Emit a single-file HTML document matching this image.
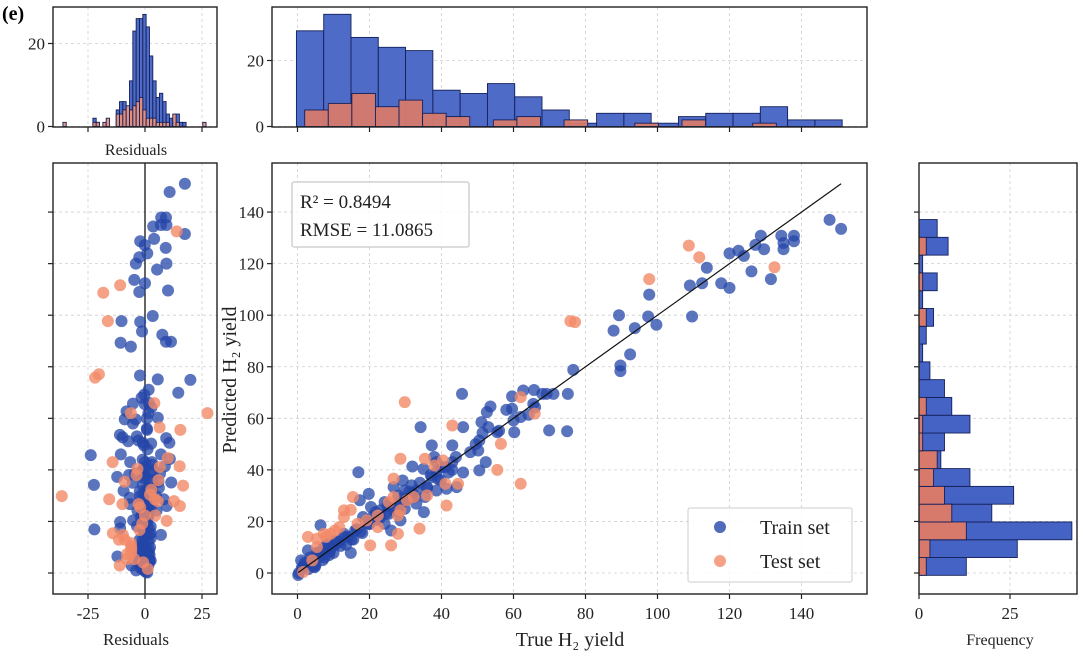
<!DOCTYPE html>
<html><head><meta charset="utf-8">
<style>
html,body{margin:0;padding:0;background:#fff;}
svg{display:block;font-family:"Liberation Serif",serif;}
</style></head>
<body>
<svg id="chart" width="1080" height="654" viewBox="0 0 1080 654" xmlns="http://www.w3.org/2000/svg">
<text x="2" y="20" font-size="20" font-weight="bold">(e)</text>
</svg>
<script>
// ---------- data ----------
const trainTrue = [147.8,151,128.7,127.2,129.6,134.4,137.9,135,137.9,135,120,122.5,124,113.7,126.1,117.7,120,131.5,112.4,109,109.6,97.7,97.4,99.7,89.3,87.8,93.7,92.4,89.7,89.7,76.6,75.1,74.9,69.9,71.1,65.7,68,62.7,59.6,59.6,58,60.2,66,64.2,62,45.7,53.6,52.6,51.1,53,55.5,51.4,49.5,50.2,52.3,50.5,46,34.2,37.3,43,46,43,44.2,38,38.6,35,31.9,39.8,41.4,38.6,35.1,36,32.5,29.2,26.7,27.9,29.8,24.2,22.9,25.4,26,28.6,19.8,17.3,16.9,20.4,18.2,16,14.8,12.9,10.4,6.4,10,7.3,5.4,4.8,2.9,1,0.4,1.6,3.5,6,8.5,11.6,14.1,19.8,22.3,24.2,21.7,33,35.4,29.8,31.7,37.3,29.2,38.6,41.1,48,43,50.5,56,60,65.5,69.2,0.2,1.2,2.2,3,4,5,6.5,7.5,8,9,10.5,12,13,15,16.5,18,20,21,23,25,27,28,30,31,33,34,36,37,39,40,42,44,3.5,5.5,7,9.5,11,13.5,17.5,19,22,24.5,26.5,28.5,30.5,32,2,4.5,8.8,15.5];
const trainPred = [137,133.5,130.8,127.3,125.6,130.8,130.8,128,128.7,125.6,124,125,123,118.4,117,112.4,110.6,114,112.4,111.5,99.5,108,99.5,96.3,100,94,95,84.8,80.5,78.3,78.8,69.5,55,55.3,69.5,71,69.5,70.8,68.5,63.7,63.3,54.6,64.3,61.4,60.5,69.5,64.6,62.4,58.5,56.6,54.6,54.3,50,47.5,43,39.8,56.6,56.6,49.5,49.5,39,40,33.3,45,43,40.4,41.3,36,32.7,32,23.6,33.3,29.5,28.8,33.3,26.9,24.9,27.5,24.3,23,16.5,20.4,30.7,28.2,39.1,25.6,21.7,16.5,7.8,15.2,12.7,18.5,7.8,10,7.5,2.3,8.8,4.9,0,2.3,3.6,6.2,11.4,12,14,19.1,21,19.1,23.6,26.9,29.5,32,34,37.2,35.9,39.1,41.1,46.9,43,51.4,55.2,59.2,65.6,69.5,-0.8,2,3.5,1.5,5,3,8,6,9.5,8.5,11,10.5,14,13,17,15.5,19,22,21.5,26,24,30,28,31.5,32,35,33,38,36.5,41,39,45,6,8,5,10,12,11,16,20,20.5,23,25.5,26,29,31,4,2.5,7,13];
const testTrue = [108.7,111.6,97.7,132.5,75.8,77.1,29.8,43,56.5,62,65.9,55.5,62,41.1,28.6,35.4,40.4,38,44.6,41.4,33.9,27.9,26,20.2,15.4,12.9,14.8,26.7,26.7,30.4,32.3,36,16.7,19.2,10.4,7.9,9.2,2.9,5.4,4.1,1.6,11.6,22.3,25.4,28.6,5.4,7.3,12.9,22.3,27.9];
const testPred = [127,122.5,114,118.6,97.7,97.3,66.3,57.2,50.1,68.2,61.8,40,34.6,34.6,44.3,44.3,43.7,41.7,34.6,26.2,17.2,15.2,10.7,10.7,29.5,24.3,24.5,36.6,29.5,28.2,29.5,30.1,19.1,20.4,16.5,14,15.2,14,10.1,4.9,0.4,17.8,22.3,27.5,24.3,13.3,15.2,21.7,17.8,22.3];

// top histogram of true values
const trueBinStart = -0.3, trueBinWidth = 7.58;
const trueHistTrain = [29,34,27,24,23,11,10,13,9,5,1,4,4,1,3,4,4,6,2,2];
const testBinStart = 2, testBinWidth = 6.55;
const trueHistTest = [5,7,10,6,8,4,3,0,2,3,0,2,0,0,1,0,2,0,0,1];

// right histogram of predicted values
const predBinStart = -0.9, predBinWidth = 6.9;
const predHistTrain = [13,27,42,20,26,14,6,7,14,9,7,3,1,2,4,1,5,1,8,5];
const predHistTest = [2,3,13,9,7,4,5,1,1,2,0,0,0,0,2,0,1,0,2,0];

// residual histogram
const resBinStart = -36, resBinWidth = 1.46;
const resHistTrain = [0,0,0,0,0,0,0,0,0,2,1,0,0,0,0,0,4,6,6,3,11,23,26,26,27,24,17,11,7,8,6,3,2,1,3,1,1,0,0,0,0,0,0];
const resHistTest  = [1,0,0,0,0,0,0,0,0,1,1,0,1,2,0,0,3,3,4,5,4,5,6,7,4,2,2,2,1,1,1,1,0,3,1,0,0,0,0,0,0,0,1];

const xTicksMain = [0,20,40,60,80,100,120,140];
const yTicksMain = [0,20,40,60,80,100,120,140];
const resTicks = [-25,0,25];
const freqTicks = [0,25];
const histTicksTop = [0,20];
const r2Text = "R\u00B2 = 0.8494";
const rmseText = "RMSE = 11.0865";

// ---------- scales ----------
const xm = v => 297.5 + v*3.6;
const ym = v => 573 - v*2.578;
const xr = v => 145 + v*2.28;
const yh1 = c => 126.5 - c*4.15;
const yh2 = c => 126.5 - c*3.3;
const xh3 = c => 919 + c*3.64;

const svg = document.getElementById('chart');
const NS = 'http://www.w3.org/2000/svg';
function mk(tag, attrs, parent){
  const e = document.createElementNS(NS, tag);
  for (const k in attrs) e.setAttribute(k, attrs[k]);
  (parent||svg).appendChild(e);
  return e;
}
function grp(name){
  const g = mk('g', {});
  
  
  return g;
}
const GRID = {stroke:'#cfcfcf','stroke-width':0.8,'stroke-dasharray':'3,3'};
const TRAIN_FILL='#4563c5', TEST_FILL='#d77a6c', EDGE='#14205a';
const DOT_TRAIN='#2446a8', DOT_TEST='#f28a68';

// panels
const P = {
  main:{x0:272,x1:867,y0:163,y1:594},
  res:{x0:53,x1:217,y0:163,y1:594},
  h1:{x0:53,x1:217,y0:7,y1:127},
  h2:{x0:272,x1:867,y0:7,y1:127},
  h3:{x0:919,x1:1077,y0:163,y1:594}
};

// ---------- grids ----------
const gGrid = grp('grid-lines');
xTicksMain.forEach(t=>{
  mk('line',Object.assign({x1:xm(t),x2:xm(t),y1:P.main.y0,y2:P.main.y1},GRID),gGrid);
  mk('line',Object.assign({x1:xm(t),x2:xm(t),y1:P.h2.y0,y2:P.h2.y1},GRID),gGrid);
});
yTicksMain.forEach(t=>{
  mk('line',Object.assign({x1:P.main.x0,x2:P.main.x1,y1:ym(t),y2:ym(t)},GRID),gGrid);
  mk('line',Object.assign({x1:P.res.x0,x2:P.res.x1,y1:ym(t),y2:ym(t)},GRID),gGrid);
  mk('line',Object.assign({x1:P.h3.x0,x2:P.h3.x1,y1:ym(t),y2:ym(t)},GRID),gGrid);
});
resTicks.forEach(t=>{
  mk('line',Object.assign({x1:xr(t),x2:xr(t),y1:P.res.y0,y2:P.res.y1},GRID),gGrid);
  mk('line',Object.assign({x1:xr(t),x2:xr(t),y1:P.h1.y0,y2:P.h1.y1},GRID),gGrid);
});
freqTicks.forEach(t=>{
  mk('line',Object.assign({x1:xh3(t),x2:xh3(t),y1:P.h3.y0,y2:P.h3.y1},GRID),gGrid);
});
histTicksTop.forEach(t=>{
  mk('line',Object.assign({x1:P.h1.x0,x2:P.h1.x1,y1:yh1(t),y2:yh1(t)},GRID),gGrid);
  mk('line',Object.assign({x1:P.h2.x0,x2:P.h2.x1,y1:yh2(t),y2:yh2(t)},GRID),gGrid);
});

// ---------- top-left residual histogram ----------
const gH1 = grp('residual-histogram');
function vbars(counts, start, width, xs, ys, fill, name, g){
  counts.forEach((c,i)=>{
    if(!c) return;
    const xa = xs(start+i*width), xb = xs(start+(i+1)*width);
    const r = mk('rect',{x:xa,y:ys(c),width:xb-xa,height:ys(0)-ys(c),fill:fill,stroke:EDGE,'stroke-width':0.9,'fill-opacity':0.95},g);
    
    
  });
}
vbars(resHistTrain,resBinStart,resBinWidth,xr,yh1,TRAIN_FILL,'residual-bar-train',gH1);
vbars(resHistTest,resBinStart,resBinWidth,xr,yh1,'#e8907a','residual-bar-test',gH1);

// ---------- top true-value histogram ----------
const gH2 = grp('true-yield-histogram');
vbars(trueHistTrain,trueBinStart,trueBinWidth,xm,yh2,TRAIN_FILL,'true-bar-train',gH2);
vbars(trueHistTest,testBinStart,testBinWidth,xm,yh2,TEST_FILL,'true-bar-test',gH2);

// ---------- right predicted histogram ----------
const gH3 = grp('predicted-yield-histogram');
function hbars(counts,start,width,fill,name){
  counts.forEach((c,i)=>{
    if(!c) return;
    const ya = ym(start+(i+1)*width), yb = ym(start+i*width);
    const r = mk('rect',{x:xh3(0),y:ya,width:xh3(c)-xh3(0),height:yb-ya,fill:fill,stroke:EDGE,'stroke-width':0.9},gH3);
    
    
  });
}
hbars(predHistTrain,predBinStart,predBinWidth,TRAIN_FILL,'pred-bar-train');
hbars(predHistTest,predBinStart,predBinWidth,TEST_FILL,'pred-bar-test');

// ---------- residual scatter ----------
const gRes = grp('residual-scatter');
mk('line',{x1:xr(0),x2:xr(0),y1:P.res.y0,y2:P.res.y1,stroke:'#000','stroke-width':1.2},gRes);
trainTrue.forEach((t,i)=>{
  const c = mk('circle',{cx:xr(t-trainPred[i]),cy:ym(t),r:6,fill:DOT_TRAIN,'fill-opacity':0.75},gRes);
  
  
});
testTrue.forEach((t,i)=>{
  const c = mk('circle',{cx:xr(t-testPred[i]),cy:ym(t),r:6,fill:DOT_TEST,'fill-opacity':0.8},gRes);
  
  
});

// ---------- main scatter ----------
const gMain = grp('parity-scatter');
trainTrue.forEach((t,i)=>{
  const c = mk('circle',{cx:xm(t),cy:ym(trainPred[i]),r:6,fill:DOT_TRAIN,'fill-opacity':0.75},gMain);
  
  
});
testTrue.forEach((t,i)=>{
  const c = mk('circle',{cx:xm(t),cy:ym(testPred[i]),r:6,fill:DOT_TEST,'fill-opacity':0.8},gMain);
  
  
});
const lo = Math.min(...trainTrue,...testTrue), hi = Math.max(...trainTrue,...testTrue);
const ideal = mk('line',{x1:xm(lo),y1:ym(lo),x2:xm(hi),y2:ym(hi),stroke:'#111','stroke-width':1.2});



// ---------- frames ----------
for (const k in P){
  const p=P[k];
  const f = mk('rect',{x:p.x0,y:p.y0,width:p.x1-p.x0,height:p.y1-p.y0,fill:'none',stroke:'#222','stroke-width':1.4});
  
  
}

// ---------- ticks & labels ----------
const gTicks = grp('axis-ticks');
function txt(x,y,s,opts,name){
  const t = mk('text',Object.assign({x:x,y:y,'font-size':17,fill:'#222'},opts||{}),gTicks);
  t.textContent = s;
  
  
  return t;
}
const TK = {stroke:'#222','stroke-width':1.2};
xTicksMain.forEach(t=>{
  mk('line',Object.assign({x1:xm(t),x2:xm(t),y1:P.main.y1,y2:P.main.y1+5},TK),gTicks);
  mk('line',Object.assign({x1:xm(t),x2:xm(t),y1:P.h2.y1,y2:P.h2.y1+5},TK),gTicks);
  txt(xm(t),619,String(t),{'text-anchor':'middle'},'x-tick-label');
});
yTicksMain.forEach(t=>{
  mk('line',Object.assign({x1:P.main.x0-5,x2:P.main.x0,y1:ym(t),y2:ym(t)},TK),gTicks);
  mk('line',Object.assign({x1:P.res.x0-5,x2:P.res.x0,y1:ym(t),y2:ym(t)},TK),gTicks);
  mk('line',Object.assign({x1:P.h3.x0-5,x2:P.h3.x0,y1:ym(t),y2:ym(t)},TK),gTicks);
  txt(P.main.x0-8,ym(t)+6,String(t),{'text-anchor':'end'},'y-tick-label');
});
resTicks.forEach(t=>{
  mk('line',Object.assign({x1:xr(t),x2:xr(t),y1:P.res.y1,y2:P.res.y1+5},TK),gTicks);
  mk('line',Object.assign({x1:xr(t),x2:xr(t),y1:P.h1.y1,y2:P.h1.y1+5},TK),gTicks);
  txt(xr(t),619,String(t),{'text-anchor':'middle'},'residual-tick-label');
});
freqTicks.forEach(t=>{
  mk('line',Object.assign({x1:xh3(t),x2:xh3(t),y1:P.h3.y1,y2:P.h3.y1+5},TK),gTicks);
  txt(xh3(t),619,String(t),{'text-anchor':'middle'},'frequency-tick-label');
});
histTicksTop.forEach(t=>{
  mk('line',Object.assign({x1:P.h1.x0-5,x2:P.h1.x0,y1:yh1(t),y2:yh1(t)},TK),gTicks);
  mk('line',Object.assign({x1:P.h2.x0-5,x2:P.h2.x0,y1:yh2(t),y2:yh2(t)},TK),gTicks);
  txt(P.h1.x0-8,yh1(t)+6,String(t),{'text-anchor':'end'},'count-tick-label');
  txt(P.h2.x0-8,yh2(t)+6,String(t),{'text-anchor':'end'},'count-tick-label');
});
</script>
<svg width="0" height="0" style="position:absolute"></svg>
<script>
(function(){
  const svg=document.getElementById('chart');
  const NS='http://www.w3.org/2000/svg';
  function label(x,y,s,size,name,extra){
    const t=document.createElementNS(NS,'text');
    t.setAttribute('x',x);t.setAttribute('y',y);t.setAttribute('font-size',size);
    t.setAttribute('fill','#222');t.setAttribute('text-anchor','middle');
    if(extra) for(const k in extra) t.setAttribute(k,extra[k]);
    t.textContent=s;
    
    
    svg.appendChild(t);
    return t;
  }
  label(136,155,'Residuals',16,'top-residuals-title');
  label(136,645,'Residuals',17,'residuals-x-title');
  label(570,646,'True H\u2082 yield',20,'x-axis-title');
  label(1000,645,'Frequency',16,'frequency-title');
  label(0,0,'Predicted H\u2082 yield',20,'y-axis-title',{transform:'translate(236,380) rotate(-90)'});

  // annotation box
  const box=document.createElementNS(NS,'rect');
  box.setAttribute('x',292);box.setAttribute('y',182);box.setAttribute('width',177);box.setAttribute('height',65);
  box.setAttribute('fill','#fff');box.setAttribute('fill-opacity','0.85');box.setAttribute('stroke','#bbb');box.setAttribute('rx',2);
  
  
  svg.appendChild(box);
  label(300,208,r2Text,19,'r2-annotation',{'text-anchor':'start'});
  label(300,236,rmseText,19,'rmse-annotation',{'text-anchor':'start'});

  // legend
  const lg=document.createElementNS(NS,'rect');
  lg.setAttribute('x',688);lg.setAttribute('y',508);lg.setAttribute('width',164);lg.setAttribute('height',74);
  lg.setAttribute('fill','#fff');lg.setAttribute('fill-opacity','0.85');lg.setAttribute('stroke','#ccc');lg.setAttribute('rx',2);
  
  
  svg.appendChild(lg);
  [['Train set','#2446a8',527,'legend-entry-train'],['Test set','#f28a68',561,'legend-entry-test']].forEach(e=>{
    const c=document.createElementNS(NS,'circle');
    c.setAttribute('cx',720);c.setAttribute('cy',e[2]);c.setAttribute('r',6);c.setAttribute('fill',e[1]);c.setAttribute('fill-opacity','0.8');
    
    
    svg.appendChild(c);
    label(760,e[2]+7,e[0],20,e[3],{'text-anchor':'start'});
  });
})();
</script>
</body></html>
